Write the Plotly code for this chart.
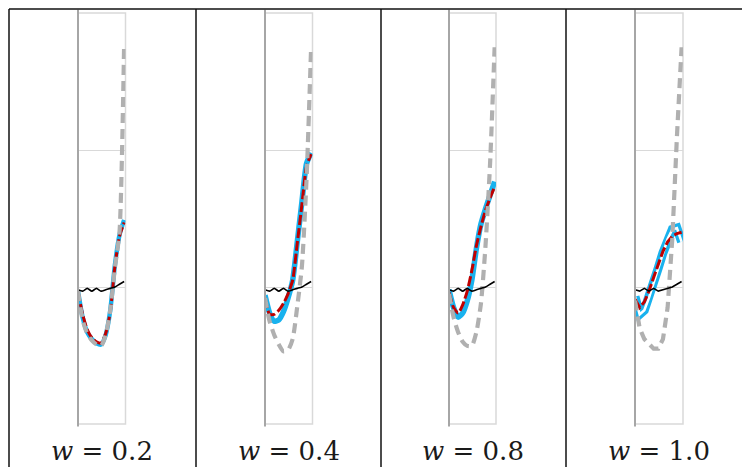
import plotly.graph_objects as go

# ---------------- data ----------------
x_idx = [0, 1, 2, 3, 4, 5, 6, 7, 8, 9, 10]
w_labels = ["0.2", "0.4", "0.8", "1.0"]

black_ref = [-0.02, -0.03, -0.01, -0.03, -0.01, -0.03, -0.02, -0.01, 0.00, 0.02, 0.04]

cyan_w02 = [-0.03, -0.22, -0.33, -0.38, -0.41, -0.42, -0.35, -0.17, 0.16, 0.38, 0.49]
red_w02 = [-0.03, -0.20, -0.31, -0.37, -0.40, -0.41, -0.34, -0.18, 0.15, 0.37, 0.47]
gray_w02 = [-0.03, -0.24, -0.34, -0.39, -0.42, -0.43, -0.35, -0.17, 0.14, 0.40, 1.77]

cyan_w04 = [-0.06, -0.19, -0.25, -0.24, -0.18, -0.08, 0.05, 0.33, 0.62, 0.90, 0.98]
red_w04 = [-0.08, -0.20, -0.20, -0.17, -0.12, -0.05, 0.05, 0.32, 0.60, 0.88, 0.97]
gray_w04 = [-0.08, -0.25, -0.35, -0.42, -0.47, -0.46, -0.38, -0.14, 0.15, 0.78, 1.75]

cyan_w08 = [-0.02, -0.15, -0.22, -0.19, -0.10, 0.05, 0.28, 0.46, 0.57, 0.67, 0.77]
red_w08 = [-0.04, -0.15, -0.19, -0.13, -0.03, 0.12, 0.30, 0.44, 0.56, 0.65, 0.73]
gray_w08 = [-0.05, -0.22, -0.33, -0.40, -0.43, -0.43, -0.33, -0.12, 0.30, 0.90, 1.75]

cyan_w10 = [-0.07, -0.20, -0.17, -0.08, 0.03, 0.14, 0.25, 0.35, 0.42, 0.43, 0.33]
red_w10 = [-0.09, -0.15, -0.11, -0.03, 0.07, 0.17, 0.26, 0.33, 0.37, 0.39, 0.40]
gray_w10 = [-0.10, -0.30, -0.38, -0.42, -0.45, -0.45, -0.38, -0.15, 0.35, 1.10, 1.75]

y_grid = [0, 1]

cyan_all = [cyan_w02, cyan_w04, cyan_w08, cyan_w10]
red_all = [red_w02, red_w04, red_w08, red_w10]
gray_all = [gray_w02, gray_w04, gray_w08, gray_w10]

# ---------------- layout geometry ----------------
W, H = 742, 467
plot_left = [78, 265, 449, 635]
plot_right = [125.5, 312.5, 496, 683]
top_px, bot_px = 13, 424
dividers = [9, 196, 381, 566]

cyan_width = [4.5, 5.5, 5.5, 9]
hollow = [False, False, False, True]
smooth = [True, True, True, False]

CYAN = "#19b2ee"
RED = "#c00000"
GRAY = "#b0b0b0"

fig = go.Figure()
layout = dict(width=W, height=H, margin=dict(l=0, r=0, t=0, b=0),
              paper_bgcolor="white", plot_bgcolor="white", showlegend=False,
              shapes=[], annotations=[])

ydom = [1 - bot_px / H, 1 - top_px / H]

for k in range(4):
    sx = "" if k == 0 else str(k + 1)
    xa, ya = "x" + sx, "y" + sx
    layout["xaxis" + sx] = dict(domain=[plot_left[k] / W, plot_right[k] / W], range=[0, 10.3],
                                 showgrid=False, zeroline=False, showticklabels=False,
                                 ticks="", anchor=ya, fixedrange=True)
    layout["yaxis" + sx] = dict(domain=ydom, range=[-1, 2], tickvals=y_grid, showgrid=True,
                                 gridcolor="#d9d9d9", gridwidth=1.3, zeroline=False,
                                 showticklabels=False, ticks="", anchor=xa, fixedrange=True)
    shp = "spline" if smooth[k] else "linear"
    fig.add_trace(go.Scatter(x=x_idx, y=cyan_all[k], mode="lines", xaxis=xa, yaxis=ya,
                             line=dict(color=CYAN, width=cyan_width[k], shape=shp, smoothing=0.6)))
    if hollow[k]:
        fig.add_trace(go.Scatter(x=x_idx, y=cyan_all[k], mode="lines", xaxis=xa, yaxis=ya,
                                 line=dict(color="white", width=2.5, shape=shp)))
    fig.add_trace(go.Scatter(x=x_idx, y=red_all[k], mode="lines", xaxis=xa, yaxis=ya,
                             line=dict(color=RED, width=3, dash="10px,3px", shape=shp, smoothing=0.6)))
    fig.add_trace(go.Scatter(x=x_idx, y=gray_all[k], mode="lines", xaxis=xa, yaxis=ya,
                             line=dict(color=GRAY, width=4.2, dash="10px,6px", shape=shp, smoothing=0.6)))
    fig.add_trace(go.Scatter(x=x_idx, y=black_ref, mode="lines", xaxis=xa, yaxis=ya,
                             line=dict(color="black", width=1.6, shape=shp, smoothing=0.6)))
    # plot frame (light) and left axis (darker)
    layout["shapes"].append(dict(type="rect", xref=xa + " domain", yref=ya + " domain",
                                 x0=0, x1=1, y0=0, y1=1, layer="below",
                                 line=dict(color="#d9d9d9", width=1.5)))
    layout["shapes"].append(dict(type="line", xref=xa + " domain", yref=ya + " domain",
                                 x0=0, x1=0, y0=-0.006, y1=1.008, layer="above",
                                 line=dict(color="#a6a6a6", width=2)))
    layout["annotations"].append(dict(text="<i>w</i> = " + w_labels[k], xref="paper", yref="paper",
                                      x=(plot_left[k] + plot_right[k]) / 2 / W, y=1 - 451 / H,
                                      xanchor="center", yanchor="middle", showarrow=False,
                                      font=dict(family="DejaVu Serif", size=26, color="#1a1a1a")))

# outer black frame lines
layout["shapes"].append(dict(type="line", xref="paper", yref="paper",
                             x0=dividers[0] / W, x1=1, y0=1 - 9 / H, y1=1 - 9 / H,
                             line=dict(color="#111111", width=1.5)))
for d in dividers:
    layout["shapes"].append(dict(type="line", xref="paper", yref="paper",
                                 x0=d / W, x1=d / W, y0=0, y1=1 - 9 / H,
                                 line=dict(color="#111111", width=1.5)))

fig.update_layout(**layout)
fig.write_html("out.html", config={"displayModeBar": False},
               post_script="document.body.style.margin='0';document.body.style.overflow='hidden';")
